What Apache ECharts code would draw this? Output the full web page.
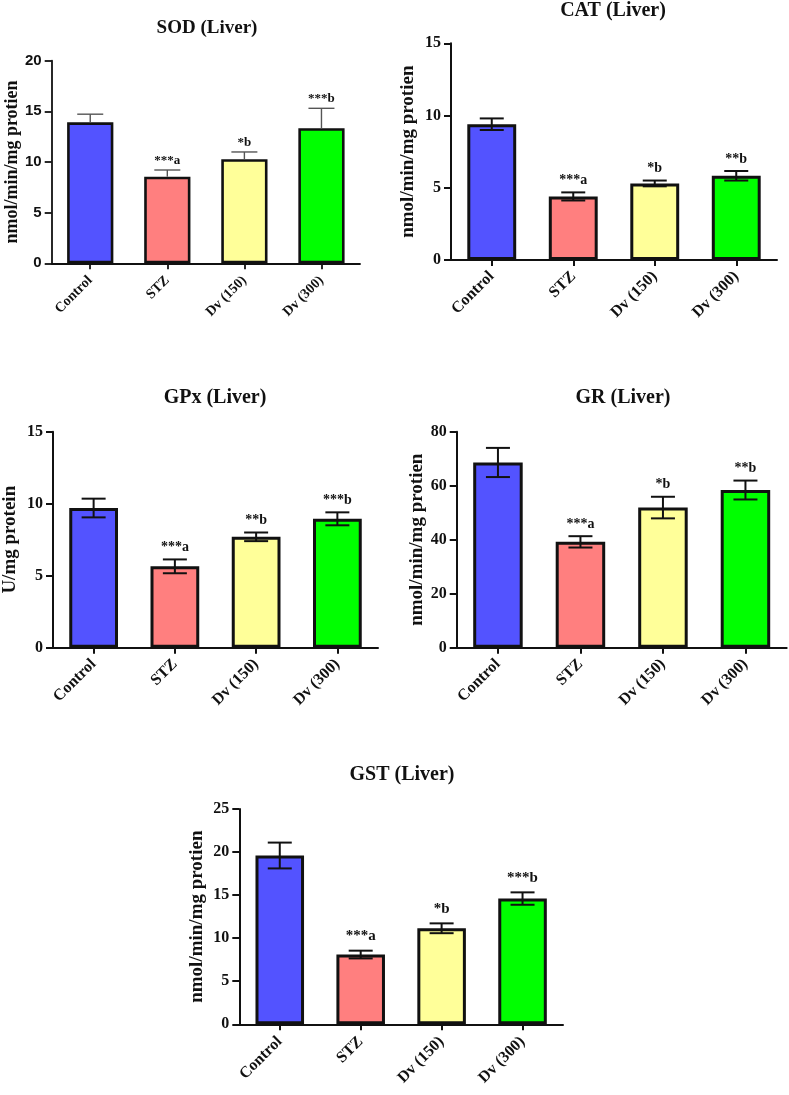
<!DOCTYPE html>
<html>
<head>
<meta charset="utf-8">
<script src="https://cdn.jsdelivr.net/npm/echarts@6/dist/echarts.min.js"></script>
<style>
html,body{margin:0;padding:0;background:#fff;}
#chart{width:789px;height:1095px;}
</style>
</head>
<body>
<div id="chart"></div>
<script>
// ---- data ----
var categories = ['Control', 'STZ', 'Dv (150)', 'Dv (300)'];
var barColors = ['#5353FF', '#FF7F7F', '#FFFF99', '#00FF00'];

var sodMean = [13.92, 8.55, 10.27, 13.33];
var sodErr  = [0.8, 0.66, 0.72, 1.97];
var sodSig  = ['', '***a', '*b', '***b'];

var catMean = [9.4, 4.4, 5.3, 5.83];
var catErr  = [0.4, 0.28, 0.2, 0.33];
var catSig  = ['', '***a', '*b', '**b'];

var gpxMean = [9.7, 5.65, 7.7, 8.95];
var gpxErr  = [0.65, 0.48, 0.3, 0.45];
var gpxSig  = ['', '***a', '**b', '***b'];

var grMean = [68.6, 39.2, 51.9, 58.4];
var grErr  = [5.4, 2.1, 4.0, 3.5];
var grSig  = ['', '***a', '*b', '**b'];

var gstMean = [19.6, 8.1, 11.15, 14.6];
var gstErr  = [1.5, 0.45, 0.57, 0.72];
var gstSig  = ['', '***a', '*b', '***b'];

var titles = ['SOD (Liver)', 'CAT (Liver)', 'GPx (Liver)', 'GR (Liver)', 'GST (Liver)'];
var yNames = ['nmol/min/mg protien', 'nmol/min/mg protien', 'U/mg protein', 'nmol/min/mg protien', 'nmol/min/mg protien'];
var yMax = [20, 15, 15, 80, 25];
var yInterval = [5, 5, 5, 20, 5];

// ---- layout / style ----
var SERIF = "'Liberation Serif', 'Times New Roman', serif";
var SANS = "'Liberation Sans', Arial, sans-serif";
var INK = '#111';

var panels = [
  {grid:{left:51.7, right:429, top:60.7, bottom:831.7}, title:[207, 28], titleSize:19, nameGap:30, nameSize:18,
   tickFont:SANS, tickSize:15, xSize:14, xMargin:15, xPad:8, axisW:1.8, border:2.6, upperOnly:true, errColor:'#555', errW:1.4, cap:26, sigSize:13, sigGap:3,
   mean:sodMean, err:sodErr, sig:sodSig},
  {grid:{left:451, right:12, top:43.3, bottom:835}, title:[613, 11], titleSize:20, nameGap:33, nameSize:19,
   tickFont:SERIF, tickSize:16, xSize:16, xMargin:14, xPad:16, axisW:2, border:3, upperOnly:false, errColor:INK, errW:2, cap:24, sigSize:14, sigGap:5,
   mean:catMean, err:catErr, sig:catSig},
  {grid:{left:52.7, right:411, top:431.7, bottom:447.3}, title:[215, 398], titleSize:20, nameGap:33, nameSize:19,
   tickFont:SERIF, tickSize:16, xSize:16, xMargin:14, xPad:16, axisW:2, border:3, upperOnly:false, errColor:INK, errW:2, cap:24, sigSize:14, sigGap:5,
   mean:gpxMean, err:gpxErr, sig:gpxSig},
  {grid:{left:456.7, right:2.3, top:431.7, bottom:447.3}, title:[623, 398], titleSize:20, nameGap:29, nameSize:19,
   tickFont:SERIF, tickSize:16, xSize:16, xMargin:14, xPad:16, axisW:2, border:3, upperOnly:false, errColor:INK, errW:2, cap:24, sigSize:14, sigGap:5,
   mean:grMean, err:grErr, sig:grSig},
  {grid:{left:239.3, right:226, top:809, bottom:70.7}, title:[402, 775], titleSize:20, nameGap:33, nameSize:19,
   tickFont:SERIF, tickSize:16, xSize:16, xMargin:15, xPad:16, axisW:2, border:3, upperOnly:false, errColor:INK, errW:2, cap:24, sigSize:15, sigGap:7,
   mean:gstMean, err:gstErr, sig:gstSig}
];

var option = {
  backgroundColor:'#fff',
  animation:false,
  grid:[], xAxis:[], yAxis:[], series:[], graphic:[]
};

panels.forEach(function(p, k){
  option.grid.push(Object.assign({containLabel:false}, p.grid));
  option.xAxis.push({
    type:'category', gridIndex:k, data:categories,
    axisLine:{show:true, lineStyle:{color:INK, width:p.axisW}},
    axisTick:{show:true, alignWithLabel:true, length:6, lineStyle:{color:INK, width:p.axisW}},
    axisLabel:{rotate:45, margin:p.xMargin, padding:[p.xPad, 0, 0, 0], color:INK, fontFamily:SERIF, fontWeight:'bold', fontSize:p.xSize, interval:0},
    splitLine:{show:false}
  });
  option.yAxis.push({
    type:'value', gridIndex:k, min:0, max:yMax[k], interval:yInterval[k],
    name:yNames[k], nameLocation:'middle', nameGap:p.nameGap,
    nameTextStyle:{color:INK, fontFamily:SERIF, fontWeight:'bold', fontSize:p.nameSize},
    axisLine:{show:true, lineStyle:{color:INK, width:p.axisW}},
    axisTick:{show:true, length:7, lineStyle:{color:INK, width:p.axisW}},
    axisLabel:{margin:10, color:INK, fontFamily:p.tickFont, fontWeight:'bold', fontSize:p.tickSize},
    splitLine:{show:false}
  });
  option.series.push({
    type:'bar', xAxisIndex:k, yAxisIndex:k, barWidth:'60%', z:2,
    data:p.mean.map(function(v, i){
      return {value:v, itemStyle:{color:barColors[i], borderColor:INK, borderWidth:p.border}};
    })
  });
  (function(p){
    option.series.push({
      type:'custom', xAxisIndex:k, yAxisIndex:k, z:10,
      data:p.mean.map(function(v, i){ return [i, v, p.err[i]]; }),
      renderItem:function(params, api){
        var i = api.value(0), m = api.value(1), e = api.value(2);
        var top = api.coord([i, m + e]);
        var mid = api.coord([i, m]);
        var bot = api.coord([i, m - e]);
        var hw = p.cap / 2;
        var st = {stroke:p.errColor, lineWidth:p.errW};
        var ch = [
          {type:'line', shape:{x1:top[0], y1:top[1], x2:top[0], y2:p.upperOnly ? mid[1] : bot[1]}, style:st},
          {type:'line', shape:{x1:top[0]-hw, y1:top[1], x2:top[0]+hw, y2:top[1]}, style:st}
        ];
        if (!p.upperOnly) {
          ch.push({type:'line', shape:{x1:bot[0]-hw, y1:bot[1], x2:bot[0]+hw, y2:bot[1]}, style:st});
        }
        var s = p.sig[params.dataIndex];
        if (s) {
          ch.push({type:'text', x:top[0], y:top[1] - p.sigGap,
            style:{text:s, fill:INK, align:'center', verticalAlign:'bottom',
              font:'bold ' + p.sigSize + 'px ' + SERIF}});
        }
        return {type:'group', children:ch};
      }
    });
  })(p);
  option.graphic.push({
    type:'text', x:p.title[0], y:p.title[1],
    style:{text:titles[k], fill:INK, align:'center', verticalAlign:'middle',
      font:'bold ' + p.titleSize + 'px ' + SERIF}
  });
});

var chart = echarts.init(document.getElementById('chart'), null, {renderer:'canvas'});
chart.setOption(option);
</script>
</body>
</html>
